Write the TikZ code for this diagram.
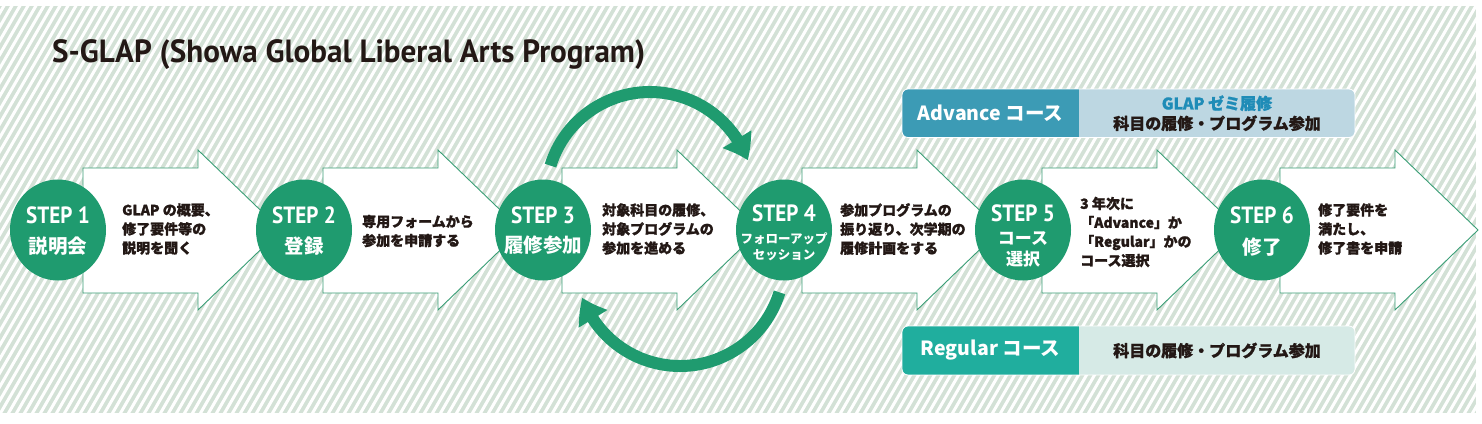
\documentclass[tikz,border=0pt]{standalone}
\usepackage{fontspec}
\usetikzlibrary{arrows.meta,bending,shapes.geometric}
\newfontfamily\jpfont{Noto Sans CJK JP}[BoldFeatures={FakeBold=1.2}]
\newfontfamily\jplight{Noto Sans CJK JP}
\newfontfamily\latfont{PT Sans}
\definecolor{stepgreen}{HTML}{1F9B6F}
\definecolor{outlinegreen}{HTML}{3A9E76}
\definecolor{bgbase}{HTML}{D3E1D6}
\definecolor{advdark}{HTML}{3C9BB5}
\definecolor{advlight}{HTML}{BDD7E2}
\definecolor{glapblue}{HTML}{1F8CB7}
\definecolor{regdark}{HTML}{20AE9E}
\definecolor{reglight}{HTML}{D6EAE6}
\definecolor{inkblack}{HTML}{231815}
\newcommand\steplabel[1]{\scalebox{0.9}[1]{#1}}
\tikzset{
  arrowbox/.style={fill=white, draw=outlinegreen, line width=0.9pt, line join=miter},
  stepcircle/.style={ellipse, fill=stepgreen, minimum width=96pt, minimum height=101pt, inner sep=0pt},
  steplbl/.style={text=white, inner sep=0pt, font=\latfont\bfseries\fontsize{23.5}{23.5}\selectfont},
  stepjp/.style={text=white, inner sep=0pt, font=\jplight\bfseries\fontsize{19.5}{20}\selectfont},
  stepjpmid/.style={text=white, inner sep=0pt, font=\jplight\bfseries\fontsize{17}{17}\selectfont},
  stepjpsmall/.style={text=white, inner sep=0pt, font=\jplight\bfseries\fontsize{12.5}{13}\selectfont},
  arrowtext/.style={anchor=west, inner sep=0pt, align=left, text=inkblack, font=\jpfont\bfseries\fontsize{14}{19}\selectfont},
  cyclearc/.style={draw=stepgreen, line width=12pt, -{Triangle[length=24pt,width=32pt,bend]}},
  coursetag/.style={inner sep=0pt, minimum height=49pt, text=white, font=\jplight\bfseries\fontsize{19.5}{19.5}\selectfont},
  coursedesc/.style={inner sep=0pt, minimum height=49pt, align=center, text=inkblack, font=\jpfont\bfseries\fontsize{16}{20}\selectfont},
}
\newcommand\StepArrow[1]{%
  \draw[arrowbox] (#1,168) -- ++(115,0) -- ++(0,-18) -- ++(83,80) -- ++(-83,80) -- ++(0,-17) -- ++(-115,0) -- cycle;}
\begin{document}
\begin{tikzpicture}[x=1pt,y=-1pt]
\useasboundingbox (0,0) rectangle (1482,423);
% hatched background
\fill[bgbase] (0,6) rectangle (1476,413);
\begin{scope}
  \clip (0,6) rectangle (1476,413);
  \foreach \i in {-248,-240,...,1480} \draw[white, line width=3pt] (\i,414) -- ++(241,-417);
\end{scope}
% title
\node[anchor=base west, inner sep=0pt, text=inkblack] (title) at (52,62)
  {\resizebox*{593pt}{30pt}{\latfont\bfseries\fontsize{27}{30}\selectfont S-GLAP (Showa Global Liberal Arts Program)}};
% step arrows
\StepArrow{83}
\StepArrow{323}
\StepArrow{562}
\StepArrow{802}
\StepArrow{1042}
\StepArrow{1280}
% cycle arrows between step 3 and step 4
\coordinate (upstart) at (550.5,165.6);
\coordinate (lowstart) at (779.5,292.4);
\draw[cyclearc] (upstart) arc[start angle=197, end angle=340, radius=104];
\draw[cyclearc] (lowstart) arc[start angle=17, end angle=160, radius=104];
% circles
\node[stepcircle] (s1) at (58,230) {};
\node[stepcircle] (s2) at (304,230) {};
\node[stepcircle] (s3) at (543,230) {};
\node[stepcircle] (s4) at (784,230) {};
\node[stepcircle] (s5) at (1023,230) {};
\node[stepcircle] (s6) at (1262,230) {};
% circle labels
\node[steplbl] (l1) at (58,215) {\steplabel{STEP 1}};
\node[stepjp] (j1) at (58,246) {説明会};
\node[steplbl] (l2) at (304,215) {\steplabel{STEP 2}};
\node[stepjp] (j2) at (304,246) {登録};
\node[steplbl] (l3) at (543,215) {\steplabel{STEP 3}};
\node[stepjp] (j3) at (543,245) {履修参加};
\node[steplbl] (l4) at (784,213) {\steplabel{STEP 4}};
\node[stepjpsmall] (j4a) at (784,239) {フォローアップ};
\node[stepjpsmall] (j4b) at (784,255) {セッション};
\node[steplbl] (l5) at (1023,213) {\steplabel{STEP 5}};
\node[stepjpmid] (j5a) at (1023,238.5) {コース};
\node[stepjpmid] (j5b) at (1023,259) {選択};
\node[steplbl] (l6) at (1262,215) {\steplabel{STEP 6}};
\node[stepjp] (j6) at (1262,247) {修了};
% arrow texts
\node[arrowtext] (t1) at (122,229) {GLAP の概要、\\修了要件等の\\説明を聞く};
\node[arrowtext] (t2) at (362,231) {専用フォームから\\参加を申請する};
\node[arrowtext] (t3) at (602,229) {対象科目の履修、\\対象プログラムの\\参加を進める};
\node[arrowtext] (t4) at (840,229) {参加プログラムの\\振り返り、次学期の\\履修計画をする};
\node[arrowtext] (t5) at (1080,232) {3 年次に\\「Advance」か\\「Regular」かの\\コース選択};
\node[arrowtext] (t6) at (1318,229) {修了要件を\\満たし、\\修了書を申請};
% Advance course box
\begin{scope}
  \clip[rounded corners=6pt] (902,89) rectangle (1355,137.5);
  \node[coursetag, fill=advdark, minimum width=177pt] (advtag) at (990.5,113.25) {Advance コース};
  \node[coursedesc, fill=advlight, minimum width=276pt] (advdesc) at (1217,113.25) {{\color{glapblue}GLAP ゼミ履修}\\科目の履修・プログラム参加};
\end{scope}
\draw[white, line width=0.8pt, rounded corners=6pt] (902,89) rectangle (1355,137.5);
% Regular course box
\begin{scope}
  \clip[rounded corners=6pt] (902,326) rectangle (1355,375);
  \node[coursetag, fill=regdark, minimum width=177pt] (regtag) at (990.5,350.5) {Regular コース};
  \node[coursedesc, fill=reglight, minimum width=276pt] (regdesc) at (1217,350.5) {科目の履修・プログラム参加};
\end{scope}
\draw[white, line width=0.8pt, rounded corners=6pt] (902,326) rectangle (1355,375);
\end{tikzpicture}
\end{document}
